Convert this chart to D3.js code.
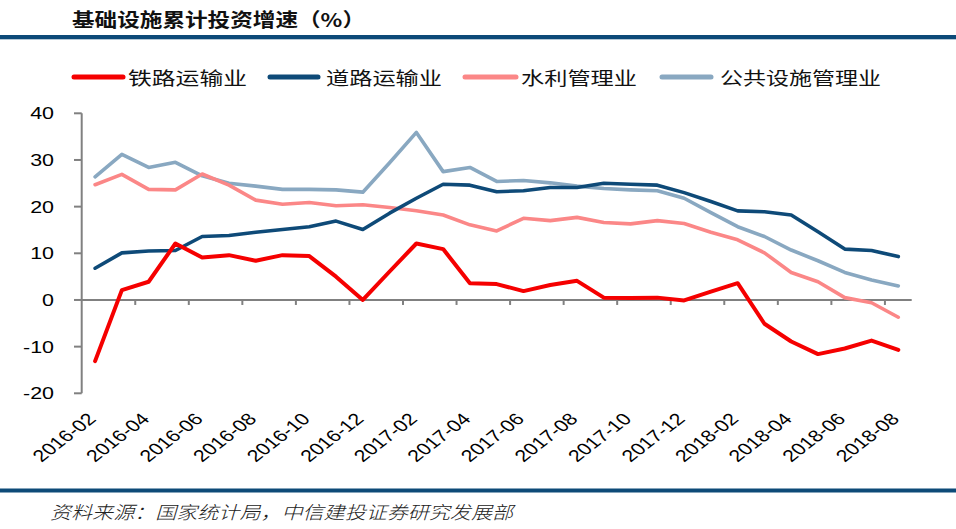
<!DOCTYPE html>
<html><head><meta charset="utf-8">
<script src="https://cdn.jsdelivr.net/npm/d3@7"></script>
<style>html,body{margin:0;padding:0;background:#fff;}svg{display:block;}</style>
</head><body>
<svg id="c" width="956" height="529"></svg>
<script>
const months = ["2016-02","2016-03","2016-04","2016-05","2016-06","2016-07","2016-08","2016-09","2016-10","2016-11","2016-12",
"2017-01","2017-02","2017-03","2017-04","2017-05","2017-06","2017-07","2017-08","2017-09","2017-10","2017-11","2017-12",
"2018-01","2018-02","2018-03","2018-04","2018-05","2018-06","2018-07","2018-08"];
const railway = [-13.1,2.1,3.9,12.1,9.1,9.6,8.4,9.6,9.4,5.0,0.0,6.1,12.1,10.9,3.6,3.4,1.9,3.2,4.1,0.5,0.4,0.5,-0.1,1.8,3.6,-5.1,-8.9,-11.6,-10.4,-8.7,-10.7];
const road = [6.8,10.1,10.5,10.6,13.6,13.8,14.5,15.1,15.7,16.9,15.1,18.6,21.8,24.8,24.6,23.2,23.4,24.1,24.1,25.0,24.8,24.6,23.0,21.1,19.1,18.9,18.2,14.6,10.9,10.6,9.3];
const water = [24.7,26.9,23.7,23.6,27.0,24.6,21.4,20.5,20.9,20.2,20.4,19.8,19.1,18.2,16.1,14.8,17.5,17.0,17.7,16.6,16.3,17.0,16.4,14.5,12.9,10.1,5.9,3.9,0.5,-0.6,-3.7];
const publicFac = [26.4,31.2,28.4,29.5,26.6,25.0,24.4,23.7,23.7,23.6,23.1,29.4,35.9,27.5,28.4,25.4,25.6,25.1,24.4,23.9,23.6,23.4,21.8,18.7,15.7,13.6,10.7,8.4,5.9,4.3,3.0];
const seriesNames = ["铁路运输业","道路运输业","水利管理业","公共设施管理业"];
const seriesColors = ["#f50000","#0e4a78","#fb8787","#89a8c1"];
const yTicks = [-20,-10,0,10,20,30,40];
const titleText = "基础设施累计投资增速（%）";
const sourceText = "资料来源：国家统计局，中信建投证券研究发展部";

const svg = d3.select("#c");
const SX = 1.3;
const cjk = "'Noto Sans CJK SC','Noto Sans',sans-serif";
const latin = "'Liberation Sans',Arial,sans-serif";

// header
svg.append("text").attr("x",72).attr("y",27).text(titleText)
  .attr("font-family",cjk).attr("font-weight","bold").attr("font-size",19).attr("fill","#111")
  .attr("textLength",293).attr("lengthAdjust","spacingAndGlyphs");
svg.append("rect").attr("x",0).attr("y",35).attr("width",956).attr("height",4.3).attr("fill","#0d4a78");

// footer
svg.append("rect").attr("x",0).attr("y",488.5).attr("width",956).attr("height",4).attr("fill","#0d4a78");
svg.append("text").attr("x",50).attr("y",519).text(sourceText)
  .attr("font-family",cjk).attr("font-style","italic").attr("font-weight",300).attr("font-size",18).attr("fill","#222")
  .attr("textLength",463).attr("lengthAdjust","spacingAndGlyphs");

// scales
const x = d3.scaleBand().domain(months).range([81.7,911.7]);
const y = d3.scaleLinear().domain([-20,40]).range([393.3,113.3]);
const cx = d => x(d) + x.bandwidth()/2;

// y axis
const g = svg.append("g");
g.append("line").attr("x1",81.7).attr("x2",81.7).attr("y1",y(40)).attr("y2",y(-20)).attr("stroke","#808080").attr("stroke-width",2);
g.selectAll(".yt").data(yTicks).join("line").attr("x1",74).attr("x2",81.7)
  .attr("y1",d=>y(d)).attr("y2",d=>y(d)).attr("stroke","#808080").attr("stroke-width",2);
g.selectAll(".yl").data(yTicks).join("text")
  .attr("transform",d=>`translate(54,${y(d)}) scale(${SX},1)`)
  .attr("text-anchor","end").attr("dy","0.36em")
  .attr("font-family",latin).attr("font-size",16.5).attr("fill","#000").text(d=>d);

// x axis
g.append("line").attr("x1",81.7).attr("x2",911.7).attr("y1",y(0)).attr("y2",y(0)).attr("stroke","#808080").attr("stroke-width",2);
const tickMonths = months.filter((d,i)=>i>0 && i%2===0);
g.selectAll(".xt").data(tickMonths).join("line").attr("x1",d=>x(d)).attr("x2",d=>x(d))
  .attr("y1",y(0)).attr("y2",y(0)+5).attr("stroke","#808080").attr("stroke-width",2);
const labelMonths = months.filter((d,i)=>i%2===0);
g.selectAll(".xl").data(labelMonths).join("text")
  .attr("transform",d=>`translate(${cx(d)+2},${420}) scale(${SX},1) rotate(-45)`)
  .attr("text-anchor","end")
  .attr("font-family",latin).attr("font-size",16.5).attr("fill","#000").text(d=>d);

// lines
const allSeries = [railway, road, water, publicFac];
const widths = [4,3.6,3.6,3.6];
const line = d3.line().x((d,i)=>cx(months[i])).y(d=>y(d));
[3,2,1,0].forEach(k=>{
  svg.append("path").datum(allSeries[k]).attr("d",line).attr("fill","none")
    .attr("stroke",seriesColors[k]).attr("stroke-width",widths[k]).attr("stroke-linejoin","round").attr("stroke-linecap","round");
});

// legend
const legX = [[72,125,128,119],[268,320,326,116],[463,518,521,116],[660,713,720,161]];
seriesNames.forEach((n,k)=>{
  const [a,b,tx,tl] = legX[k];
  svg.append("line").attr("x1",a+2).attr("x2",b-2).attr("y1",77).attr("y2",77)
    .attr("stroke",seriesColors[k]).attr("stroke-width",5).attr("stroke-linecap","round");
  svg.append("text").attr("x",tx).attr("y",84.5).text(n)
    .attr("font-family",cjk).attr("font-size",18).attr("fill","#111")
    .attr("textLength",tl).attr("lengthAdjust","spacingAndGlyphs");
});
</script>
</body></html>
